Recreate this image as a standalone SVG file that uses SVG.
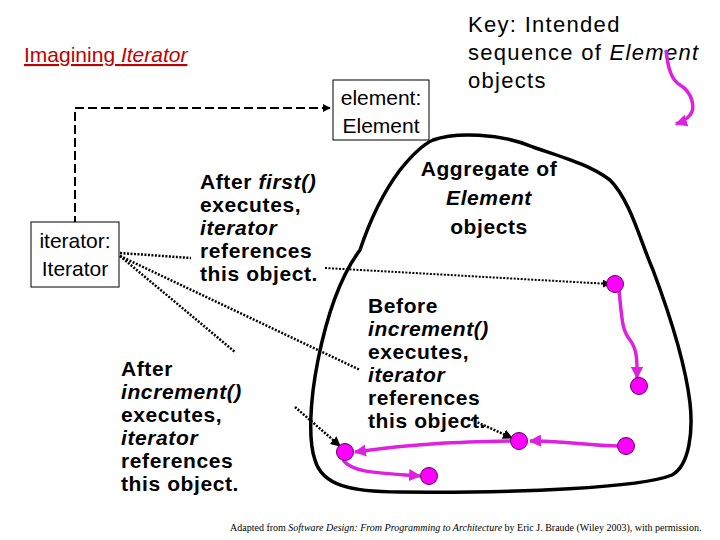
<svg xmlns="http://www.w3.org/2000/svg" width="720" height="540" viewBox="0 0 720 540">
<style>
text{font-family:"Liberation Sans",Arial,sans-serif;fill:#000}
.b{font-weight:bold;font-size:21px;letter-spacing:0.6px}
.n{font-size:21px}
.box{fill:#fff;stroke:#000;stroke-width:1}
.dot{fill:#f0f;stroke:#600060;stroke-width:1}
.dl{fill:none;stroke:#000;stroke-width:2.5;stroke-dasharray:2 1.5}
.seq{fill:none;stroke:#e020e0;stroke-width:3.5}
</style>
<defs>
<marker id="ab" viewBox="0 0 10 10" refX="9" refY="5" markerWidth="4" markerHeight="4" orient="auto"><path d="M0,0L10,5L0,10z" fill="#000"/></marker>
<marker id="am" viewBox="0 0 10 10" refX="9" refY="5" markerWidth="3.5" markerHeight="3.5" orient="auto"><path d="M0,0L10,5L0,10z" fill="#e020e0"/></marker>
</defs>
<rect width="720" height="540" fill="#fff"/>
<text x="24" y="62" class="n" fill="#c00000" style="fill:#c00000;text-decoration:underline">Imagining <tspan font-style="italic">Iterator</tspan></text>
<g id="key">
<text class="n" style="font-size:22px;letter-spacing:1.3px"><tspan x="468" y="32">Key: Intended</tspan><tspan x="468" y="60">sequence of <tspan font-style="italic">Element</tspan></tspan><tspan x="468" y="88">objects</tspan></text>
<path class="seq" d="M666,50 C668,70 672,80 680,85 C692,92 696,108 690,115 C686,120 682,122 676,124" marker-end="url(#am)"/>
</g>
<g id="aggregate">
<path d="M400,170 C412,155 422,145 433,140 C455,132 500,133 533,147 C565,158 590,165 610,180 C630,200 640,240 653,270 C668,310 685,360 690,403 C693,430 690,465 672,475 C640,488 520,493 400,492 C350,492 322,485 315,460 C308,440 310,400 318,360 C330,300 345,270 360,250 C370,220 385,190 400,170 Z" fill="none" stroke="#000" stroke-width="3.5"/>
<text class="b" text-anchor="middle"><tspan x="489" y="176">Aggregate of</tspan><tspan x="489" y="205" font-style="italic">Element</tspan><tspan x="489" y="234">objects</tspan></text>
</g>
<g id="connectors">
<path class="dl" d="M75,225 V108 H330" marker-end="url(#ab)" style="stroke-dasharray:9 4;stroke-width:2"/>
<path class="dl" d="M120,253 L191,258"/>
<path class="dl" d="M120,256 L235,352"/>
<path class="dl" d="M120,256 L360,370"/>
<path class="dl" d="M325,268 L610,284" marker-end="url(#ab)" style="stroke-width:2"/>
<path class="dl" d="M295,407 L340,446" marker-end="url(#ab)"/>
<path class="dl" d="M468,418 L512,438" marker-end="url(#ab)"/>
<path class="seq" d="M619,290 C622,320 622,330 630,340 C638,350 637,365 637,378" marker-end="url(#am)"/>
<path class="seq" d="M618,446 C590,446 560,440 530,441" marker-end="url(#am)"/>
<path class="seq" d="M510,441 C460,442 420,443 355,452" marker-end="url(#am)"/>
<path class="seq" d="M343,460 C352,473 380,473 420,476" marker-end="url(#am)"/>
</g>
<g id="element">
<rect class="box" x="333" y="80" width="96" height="60"/>
<text class="n" text-anchor="middle"><tspan x="381" y="105">element:</tspan><tspan x="381" y="133">Element</tspan></text>
</g>
<g id="iterator">
<rect class="box" x="31" y="222" width="88" height="65"/>
<text class="n" text-anchor="middle"><tspan x="75" y="248">iterator:</tspan><tspan x="75" y="276">Iterator</tspan></text>
</g>
<g id="note-first">
<text class="b"><tspan x="200" y="189">After <tspan font-style="italic">first()</tspan></tspan><tspan x="200" y="212">executes,</tspan><tspan x="200" y="235" font-style="italic">iterator</tspan><tspan x="200" y="258">references</tspan><tspan x="200" y="281">this object.</tspan></text>
</g>
<g id="note-before">
<text class="b"><tspan x="368" y="313">Before</tspan><tspan x="368" y="336" font-style="italic">increment()</tspan><tspan x="368" y="359">executes,</tspan><tspan x="368" y="382" font-style="italic">iterator</tspan><tspan x="368" y="405">references</tspan><tspan x="368" y="428">this object.</tspan></text>
</g>
<g id="note-after">
<text class="b"><tspan x="121" y="376">After</tspan><tspan x="121" y="399" font-style="italic">increment()</tspan><tspan x="121" y="422">executes,</tspan><tspan x="121" y="445" font-style="italic">iterator</tspan><tspan x="121" y="468">references</tspan><tspan x="121" y="491">this object.</tspan></text>
</g>
<g id="dots">
<circle class="dot" cx="615" cy="284" r="8.5"/>
<circle class="dot" cx="639" cy="386" r="8.5"/>
<circle class="dot" cx="519" cy="441" r="8.5"/>
<circle class="dot" cx="626" cy="446" r="8.5"/>
<circle class="dot" cx="345" cy="452" r="8.5"/>
<circle class="dot" cx="429" cy="476" r="8.5"/>
</g>
<text x="230" y="531" font-size="10" style="font-family:'Liberation Serif',serif">Adapted from <tspan font-style="italic">Software Design: From Programming to Architecture</tspan> by Eric J. Braude (Wiley 2003), with permission.</text>
</svg>
